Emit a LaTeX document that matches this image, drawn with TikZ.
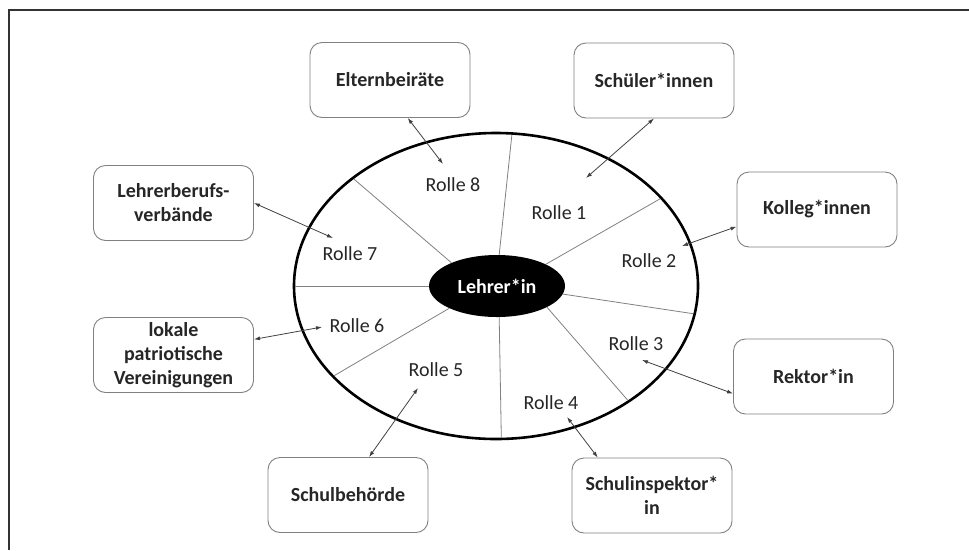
\documentclass[tikz,border=0pt]{standalone}
\usepackage{fontspec}
\setmainfont{Carlito}
\usepackage{tikz}
\usetikzlibrary{arrows.meta,shapes.geometric}

\begin{document}
\begin{tikzpicture}[x=1pt,y=-1pt,>={Latex[length=6pt,width=4pt]},font=\fontsize{20}{24}\selectfont,
  akteur/.style={draw=black!50,line width=0.9pt,rounded corners=12pt,minimum width=160pt,minimum height=75pt,
    align=center,text=black!85,font=\fontsize{20}{24}\selectfont\bfseries},
  rolle/.style={text=black!85},
  speiche/.style={black!50,line width=0.8pt,shorten >=1.2pt},
  bezug/.style={<->,black!75,line width=0.8pt}]
  \useasboundingbox (0,0) rectangle (969,550);
  \draw[black!80,line width=1.6pt] (9,550) |- (969,10);
  % Kreis mit Lehrer*in in der Mitte
  \node[ellipse,draw,line width=2.6pt,outer sep=0pt,minimum width=404pt,minimum height=306pt] (kreis) at (496,286) {};
  \node[ellipse,fill=black,text=white,font=\fontsize{20}{24}\selectfont\bfseries,minimum width=136pt,minimum height=62pt,inner sep=0pt] (lehrer) at (497,286) {Lehrer*in};
  \draw[speiche] (lehrer.86) -- (kreis.84);
  \draw[speiche] (lehrer.24) -- (kreis.28);
  \draw[speiche] (lehrer.-7) -- (kreis.-8);
  \draw[speiche] (lehrer.-23) -- (kreis.-41);
  \draw[speiche] (lehrer.-86) -- (kreis.-88.5);
  \draw[speiche] (lehrer.-155) -- (kreis.-151);
  \draw[speiche] (lehrer.180) -- (kreis.180);
  \draw[speiche] (lehrer.153) -- (kreis.143);
  % Rollen
  \node[rolle] (r1) at (559,213) {Rolle 1};
  \node[rolle] (r2) at (649,261) {Rolle 2};
  \node[rolle] (r3) at (636,344) {Rolle 3};
  \node[rolle] (r4) at (551,403) {Rolle 4};
  \node[rolle] (r5) at (436,370) {Rolle 5};
  \node[rolle] (r6) at (357,326) {Rolle 6};
  \node[rolle] (r7) at (350,254) {Rolle 7};
  \node[rolle] (r8) at (453,185) {Rolle 8};
  % Bezugsgruppen
  \node[akteur] (eltern) at (390,80) {Elternbeiräte};
  \node[akteur] (schueler) at (654,80.5) {Schüler*innen};
  \node[akteur] (kolleg) at (817,209.5) {Kolleg*innen};
  \node[akteur] (rektor) at (813.5,376.5) {Rektor*in};
  \node[akteur] (inspektor) at (652,495.5) {Schulinspektor*\\in};
  \node[akteur] (behoerde) at (348,495) {Schulbehörde};
  \node[akteur] (lokale) at (173.5,355) {lokale\\patriotische\\Vereinigungen};
  \node[akteur] (verband) at (173.5,203) {Lehrerberufs-\\verbände};
  % Pfeilenden an den Rollen
  \coordinate (p1) at (586,178);
  \coordinate (p2) at (682,246);
  \coordinate (p3) at (642,360);
  \coordinate (p4) at (567,417);
  \coordinate (p5) at (418,388);
  \coordinate (p6) at (322,327);
  \coordinate (p7) at (333,238);
  \coordinate (p8) at (443,164);
  \draw[bezug] (schueler.south) -- (p1);
  \draw[bezug] (kolleg.192) -- (p2);
  \draw[bezug] (rektor.192) -- (p3);
  \draw[bezug] (inspektor.145) -- (p4);
  \draw[bezug] (behoerde.61) -- (p5);
  \draw[bezug] (lokale.11) -- (p6);
  \draw[bezug] (verband.east) -- (p7);
  \draw[bezug] (eltern.-65) -- (p8);
\end{tikzpicture}
\end{document}
